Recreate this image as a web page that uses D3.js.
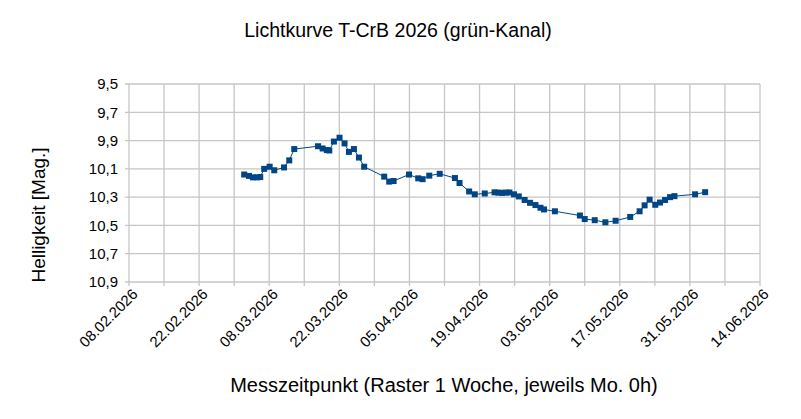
<!DOCTYPE html>
<html>
<head>
<meta charset="utf-8">
<script src="https://cdn.jsdelivr.net/npm/d3@7"></script>
<style>
  body { margin: 0; background: #fff; }
  text { font-family: "Liberation Sans", Arial, sans-serif; fill: #000; }
</style>
</head>
<body>
<div id="chart"></div>
<script>
// Messzeitpunkte (Datum Uhrzeit) und Helligkeit [Mag.]
const messzeit = [
  "03.03.2026 00:00", "03.03.2026 23:00", "04.03.2026 18:00", "05.03.2026 15:00", "06.03.2026 05:00",
  "07.03.2026 00:00", "08.03.2026 02:00", "09.03.2026 00:00", "10.03.2026 23:00", "12.03.2026 00:00",
  "13.03.2026 00:00", "17.03.2026 18:00", "18.03.2026 16:00", "19.03.2026 12:00", "20.03.2026 00:00",
  "20.03.2026 22:00", "22.03.2026 01:00", "23.03.2026 01:00", "23.03.2026 22:00", "24.03.2026 22:00",
  "25.03.2026 22:00", "26.03.2026 23:00", "30.03.2026 23:00", "31.03.2026 23:00", "01.04.2026 20:00",
  "04.04.2026 22:00", "06.04.2026 18:00", "07.04.2026 15:00", "08.04.2026 23:00", "11.04.2026 01:00",
  "14.04.2026 02:00", "15.04.2026 00:00", "16.04.2026 22:00", "18.04.2026 01:00", "20.04.2026 01:00",
  "22.04.2026 00:00", "22.04.2026 19:00", "23.04.2026 12:00", "24.04.2026 05:00", "24.04.2026 23:00",
  "25.04.2026 21:00", "26.04.2026 20:00", "28.04.2026 00:00", "29.04.2026 02:00", "30.04.2026 04:00",
  "01.05.2026 04:00", "01.05.2026 21:00", "04.05.2026 01:00", "09.05.2026 01:00", "10.05.2026 00:00",
  "12.05.2026 00:00", "14.05.2026 03:00", "16.05.2026 04:00", "19.05.2026 02:00", "20.05.2026 23:00",
  "21.05.2026 23:00", "22.05.2026 23:00", "24.05.2026 02:00", "25.05.2026 01:00", "26.05.2026 01:00",
  "27.05.2026 01:00", "27.05.2026 22:00", "01.06.2026 01:00", "03.06.2026 01:00"
]
const helligkeit = [
  10.14, 10.15, 10.16, 10.16, 10.158,
  10.10, 10.085, 10.11, 10.09, 10.04,
  9.96, 9.94, 9.956, 9.967, 9.97,
  9.907, 9.88, 9.92, 9.98, 9.96,
  10.02, 10.085, 10.155, 10.19, 10.186,
  10.14, 10.167, 10.173, 10.148, 10.135,
  10.165, 10.20, 10.26, 10.28, 10.274,
  10.266, 10.268, 10.27, 10.268, 10.267,
  10.28, 10.295, 10.32, 10.34, 10.356,
  10.375, 10.387, 10.40, 10.43, 10.455,
  10.463, 10.478, 10.467, 10.44, 10.40,
  10.358, 10.318, 10.354, 10.338, 10.32,
  10.30, 10.293, 10.28, 10.265
]
// Achsen
const yTicks = [9.5, 9.7, 9.9, 10.1, 10.3, 10.5, 10.7, 10.9]
const xStart = "08.02.2026"
const xEnd = "14.06.2026"

const titel = "Lichtkurve T-CrB 2026 (grün-Kanal)"
const xTitel = "Messzeitpunkt (Raster 1 Woche, jeweils Mo. 0h)"
const yTitel = "Helligkeit [Mag.]"

const width = 801, height = 419
const margin = {top: 84, right: 41, bottom: 137, left: 129}

const parseZeit = d3.timeParse("%d.%m.%Y %H:%M")
const parseTag = d3.timeParse("%d.%m.%Y")
const fmtTag = d3.timeFormat("%d.%m.%Y")
const fmtMag = d => d3.format(".1f")(d).replace(".", ",")

const data = messzeit.map((t, i) => ({t: parseZeit(t), m: helligkeit[i]}))

const svg = d3.select("#chart").append("svg")
    .attr("width", width)
    .attr("height", height)

const x = d3.scaleTime()
    .domain([parseTag(xStart), parseTag(xEnd)])
    .range([margin.left, width - margin.right])

const y = d3.scaleLinear()
    .domain([9.5, 10.9])
    .range([margin.top, height - margin.bottom])

// Raster: jede Woche eine Linie, jede zweite beschriftet
const wochen = d3.timeWeek.range(x.domain()[0], d3.timeDay.offset(x.domain()[1], 1))
const zweiWochen = wochen.filter((d, i) => i % 2 == 0)

const grid = svg.append("g")
    .attr("stroke", "#c6c6c6")
    .attr("stroke-width", 1.3)

grid.selectAll("line.v")
  .data(wochen)
  .join("line")
    .attr("class", "v")
    .attr("x1", d => x(d)).attr("x2", d => x(d))
    .attr("y1", y(9.5)).attr("y2", y(10.9) + 4)

grid.selectAll("line.h")
  .data(yTicks)
  .join("line")
    .attr("class", "h")
    .attr("x1", x.range()[0] - 4).attr("x2", x.range()[1])
    .attr("y1", d => y(d)).attr("y2", d => y(d))

// Y-Achse
const yAxis = svg.append("g")
    .attr("transform", `translate(${margin.left},0)`)
    .call(d3.axisLeft(y).tickValues(yTicks).tickFormat(fmtMag).tickSize(0).tickPadding(11))
yAxis.select(".domain").remove()
yAxis.selectAll("text")
    .attr("font-size", 15)
    .attr("fill", "#000")
    .attr("font-family", "Liberation Sans, Arial, sans-serif")

// X-Achse
const xAxis = svg.append("g")
    .attr("transform", `translate(0,${y(10.9)})`)
    .call(d3.axisBottom(x).tickValues(zweiWochen).tickFormat(fmtTag).tickSize(0))
xAxis.select(".domain").remove()
xAxis.selectAll("text")
    .attr("font-size", 15)
    .attr("fill", "#000")
    .attr("font-family", "Liberation Sans, Arial, sans-serif")
    .attr("text-anchor", "end")
    .attr("dy", 0)
    .attr("transform", "translate(7,11) rotate(-45)")

// Datenlinie
const farbe = "#004586"
svg.append("path")
    .datum(data)
    .attr("fill", "none")
    .attr("stroke", farbe)
    .attr("stroke-width", 1)
    .attr("d", d3.line().x(d => x(d.t)).y(d => y(d.m)))

svg.append("g")
    .attr("fill", farbe)
  .selectAll("rect")
  .data(data)
  .join("rect")
    .attr("x", d => x(d.t) - 3)
    .attr("y", d => y(d.m) - 3)
    .attr("width", 6)
    .attr("height", 6)

// Titel
svg.append("text")
    .attr("x", 398)
    .attr("y", 37)
    .attr("text-anchor", "middle")
    .attr("font-size", 19.5)
    .text(titel)

svg.append("text")
    .attr("x", 444)
    .attr("y", 392)
    .attr("text-anchor", "middle")
    .attr("font-size", 20)
    .text(xTitel)

svg.append("text")
    .attr("transform", "translate(45,215) rotate(-90)")
    .attr("text-anchor", "middle")
    .attr("font-size", 19)
    .text(yTitel)
</script>
</body>
</html>
